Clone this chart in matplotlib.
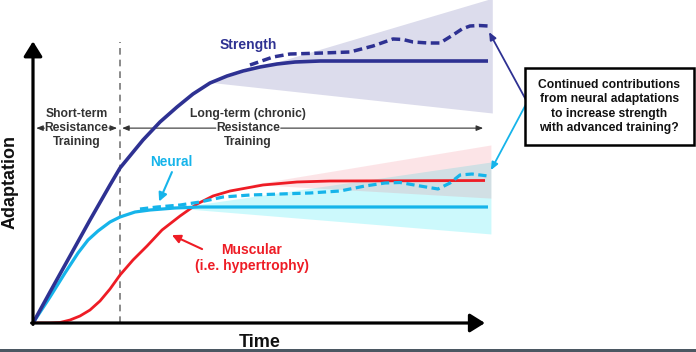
import matplotlib
matplotlib.use('Agg')
import matplotlib.pyplot as plt
from matplotlib.patches import Rectangle

plt.rcParams['font.family'] = ['Liberation Sans', 'DejaVu Sans']
plt.rcParams['font.weight'] = 'bold'

# Colours
NAVY = '#2e3192'
CYAN = '#16b4ea'
RED = '#ee1c25'
GREY_TXT = '#333333'

''' Data (time and adaptation in arbitrary units 0-100) '''
# Strength, solid line
strength_t = [0, 3.72, 8.10, 12.47, 16.85, 19.04, 24.07, 27.79, 31.51, 35.01, 38.73,
              42.45, 45.95, 49.67, 53.39, 57.33, 62.80, 99.56]
strength_a = [0, 11.07, 23.93, 36.79, 49.29, 55.36, 65.36, 71.79, 77.14, 81.79, 85.71,
              88.21, 90.0, 91.43, 92.5, 93.21, 93.57, 93.57]
# Strength with continued neural contribution, dashed
strength_dash_t = [47.48, 52.52, 56.24, 63.46, 69.37, 74.40, 78.77, 80.96, 83.15, 86.43,
                   89.06, 91.90, 93.87, 95.62, 97.59, 99.56]
strength_dash_a = [92.14, 95.0, 96.07, 96.43, 96.79, 98.93, 101.43, 101.25, 100.36, 100.0,
                   100.0, 102.86, 105.0, 106.07, 106.25, 106.07]

# Neural, solid line
neural_t = [0, 3.72, 7.00, 9.85, 12.04, 14.22, 16.85, 19.04, 22.32, 25.60, 31.07, 36.54, 99.56]
neural_a = [0, 9.29, 17.86, 25.0, 29.64, 32.86, 36.07, 37.86, 39.64, 40.36, 41.07, 41.43, 41.43]
# Neural, dashed
neural_dash_t = [23.41, 27.13, 32.17, 36.54, 41.58, 47.48, 54.05, 60.61, 67.18, 72.65,
                 77.02, 80.31, 84.68, 88.62, 91.25, 93.44, 96.06, 99.56]
neural_dash_a = [40.71, 41.43, 42.14, 43.21, 45.0, 45.71, 46.07, 46.43, 47.14, 48.93,
                 50.0, 50.18, 48.93, 47.86, 50.0, 52.86, 53.21, 52.5]

# Muscular (hypertrophy)
muscular_t = [0, 3.72, 5.91, 8.10, 10.28, 12.47, 14.66, 16.85, 19.04, 21.88, 24.95,
              28.23, 32.17, 35.89, 39.39, 43.11, 50.33, 57.77, 64.99, 98.91]
muscular_a = [0, 0, 0.18, 1.07, 2.5, 4.64, 7.86, 12.14, 17.14, 22.5, 27.5,
              33.21, 38.21, 42.5, 45.36, 47.14, 49.29, 50.36, 50.71, 50.89]

# Uncertainty wedges (start / end)
strength_band_t = [38.5, 100.5]
strength_band_lo = [86.0, 75.0]
strength_band_hi = [86.0, 116.0]
neural_band_t = [31.0, 100.2]
neural_band_lo = [41.1, 31.8]
neural_band_hi = [41.1, 57.5]
muscular_band_t = [48.0, 100.2]
muscular_band_lo = [49.5, 44.6]
muscular_band_hi = [49.5, 63.6]

phase_split = 19.0  # end of short-term training

fig = plt.figure(figsize=(6.96, 3.52), dpi=100)
ax = fig.add_axes([33 / 696, 29 / 352, 457 / 696, 280 / 352])
ax.set_xlim(0, 100)
ax.set_ylim(0, 100)
ax.axis('off')

# shaded wedges
ax.fill_between(strength_band_t, strength_band_lo, strength_band_hi,
                color='#dcdcec', lw=0, zorder=1, clip_on=False)
ax.fill_between(neural_band_t, neural_band_lo, neural_band_hi,
                color='#00e5f0', alpha=0.2, lw=0, zorder=1, clip_on=False)
ax.fill_between(muscular_band_t, muscular_band_lo, muscular_band_hi,
                color='#f05060', alpha=0.15, lw=0, zorder=1, clip_on=False)

# phase divider
ax.plot([phase_split, phase_split], [0, 100.4], color='#777777', lw=1.2,
        ls=(0, (4, 3)), zorder=2, clip_on=False)

# curves
ax.plot(muscular_t, muscular_a, color=RED, lw=2.0, zorder=4, solid_capstyle='butt',
        solid_joinstyle='round')
ax.plot(neural_t, neural_a, color=CYAN, lw=2.3, zorder=5, solid_capstyle='butt',
        solid_joinstyle='round')
ax.plot(neural_dash_t, neural_dash_a, color=CYAN, lw=2.3, ls=(0, (2.6, 1.4)), zorder=5)
ax.plot(strength_t, strength_a, color=NAVY, lw=2.6, zorder=6, solid_capstyle='butt',
        solid_joinstyle='round')
ax.plot(strength_dash_t, strength_dash_a, color=NAVY, lw=2.5, ls=(0, (2.5, 1.3)),
        zorder=6, clip_on=False)

# axes with arrow heads
axis_arrow = dict(arrowstyle='-|>,head_length=0.45,head_width=0.28', color='black',
                  lw=2.3, mutation_scale=20, shrinkA=0, shrinkB=0)
ax.annotate('', xy=(0, 100.6), xytext=(0, -0.5), arrowprops=axis_arrow, zorder=7,
            annotation_clip=False)
ax.annotate('', xy=(98.9, 0), xytext=(-0.3, 0), arrowprops=axis_arrow, zorder=7,
            annotation_clip=False)
ax.text(49.7, -6.8, 'Time', ha='center', va='center', fontsize=13, color='#111111')
ax.text(-5.0, 50.4, 'Adaptation', ha='center', va='center', rotation=90,
        fontsize=13, color='#111111')

# phase labels
ax.text(9.5, 69.6, 'Short-term\nResistance\nTraining', ha='center', va='center',
        fontsize=8.7, color=GREY_TXT, linespacing=1.2)
ax.text(47.1, 69.6, 'Long-term (chronic)\nResistance\nTraining', ha='center', va='center',
        fontsize=8.7, color=GREY_TXT, linespacing=1.2)
thin_arrow = dict(arrowstyle='-|>,head_length=0.5,head_width=0.2', color=GREY_TXT,
                  lw=0.8, mutation_scale=8, shrinkA=0, shrinkB=0)
for tail, head in [(2.5, 0.7), (16.6, 18.4), (40.0, 19.5), (54.2, 98.5)]:
    ax.annotate('', xy=(head, 69.6), xytext=(tail, 69.6), arrowprops=thin_arrow,
                annotation_clip=False)

# curve labels
ax.text(47.0, 99.3, 'Strength', ha='center', va='center', fontsize=10, color=NAVY)
ax.text(30.2, 57.5, 'Neural', ha='center', va='center', fontsize=9.8, color=CYAN)
ax.text(47.9, 23.2, 'Muscular\n(i.e. hypertrophy)', ha='center', va='center',
        fontsize=10, color=RED, linespacing=1.2)
ax.annotate('', xy=(27.6, 43.4), xytext=(30.4, 53.9),
            arrowprops=dict(arrowstyle='-|>,head_length=0.5,head_width=0.25', color=CYAN,
                            lw=1.5, mutation_scale=10, shrinkA=0, shrinkB=0))
ax.annotate('', xy=(30.4, 31.4), xytext=(37.0, 26.4),
            arrowprops=dict(arrowstyle='-|>,head_length=0.5,head_width=0.25', color=RED,
                            lw=1.5, mutation_scale=10, shrinkA=0, shrinkB=0))

# question box
ax.add_patch(Rectangle((107.7, 63.6), 36.9, 27.4, fc='white', ec='black', lw=1.8,
                       clip_on=False, zorder=8))
ax.text(126.1, 77.3, 'Continued contributions\nfrom neural adaptations\nto increase strength\nwith advanced training?',
        ha='center', va='center', fontsize=8.7, color='#111111', linespacing=1.25, zorder=9)
ax.annotate('', xy=(99.8, 103.9), xytext=(107.9, 79.6),
            arrowprops=dict(arrowstyle='-|>,head_length=0.5,head_width=0.22', color=NAVY,
                            lw=1.3, mutation_scale=9, shrinkA=0, shrinkB=0),
            annotation_clip=False)
ax.annotate('', xy=(100.2, 54.6), xytext=(107.9, 78.2),
            arrowprops=dict(arrowstyle='-|>,head_length=0.5,head_width=0.22', color=CYAN,
                            lw=1.3, mutation_scale=9, shrinkA=0, shrinkB=0),
            annotation_clip=False)

# bottom border strip
fig.add_artist(Rectangle((0, 0), 1, 3 / 352, transform=fig.transFigure,
                         fc='#4b5762', ec='none'))

fig.savefig('out.png', dpi=100)
